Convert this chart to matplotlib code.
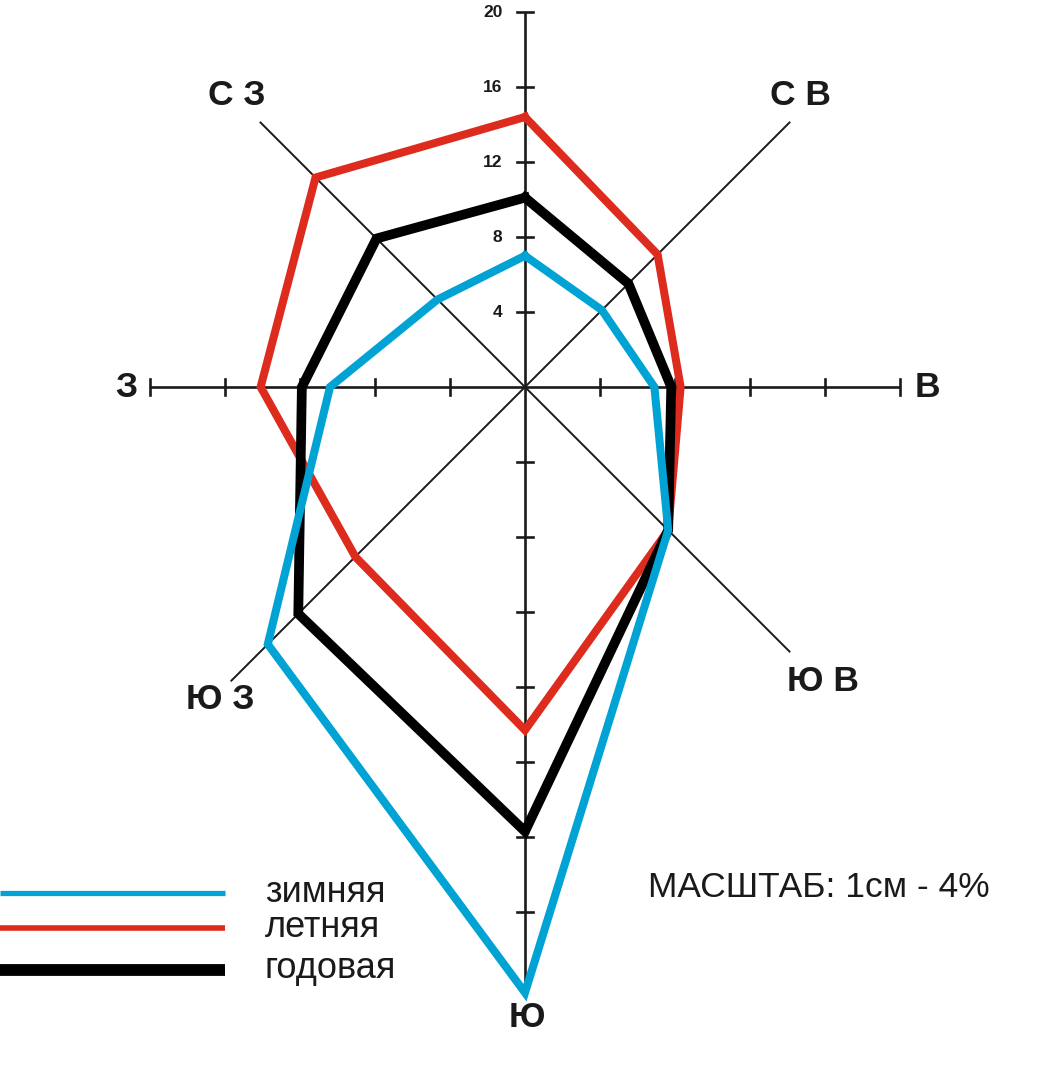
import numpy as np
import matplotlib.pyplot as plt

plt.rcParams['font.family'] = ['Liberation Sans', 'DejaVu Sans']

# Directions (clockwise from north) and their angles in degrees
directions = ['С', 'С В', 'В', 'Ю В', 'Ю', 'Ю З', 'З', 'С З']
angles = [90, 45, 0, -45, -90, -135, 180, 135]

# Wind frequency, %
winter = [7.0, 5.8, 6.9, 10.8, 32.3, 19.4, 10.4, 6.6]
summer = [14.4, 10.0, 8.3, 10.8, 18.3, 12.8, 14.1, 15.8]
annual = [10.1, 7.8, 7.8, 10.8, 23.7, 17.1, 11.9, 11.2]

series_names = ['зимняя', 'летняя', 'годовая']
series_colors = ['#00a3d4', '#dd2b1e', '#000000']

# axis lengths along each direction and tick labels on the north axis
axis_len = [20, 20, 20, 20, 32.3, 22.2, 20, 20]
tick_values = [4, 8, 12, 16, 20]

fig = plt.figure(figsize=(10.47, 10.66), dpi=100)
ax = fig.add_axes([0, 0, 1, 1])
ax.set_xlim(-28.0, 27.84)
ax.set_ylim(-36.21, 20.64)
ax.axis('off')

rad = np.deg2rad(angles)

# axes of the rose
for a, L in zip(rad, axis_len):
    main = abs(np.cos(a)) < 1e-6 or abs(np.sin(a)) < 1e-6
    ax.plot([0, L * np.cos(a)], [0, L * np.sin(a)], color='#1a1a1a',
            lw=1.9 if main else 1.4, zorder=1, solid_capstyle='butt')

# ticks on the four main axes
t = 0.42
for v in tick_values:
    ax.plot([-t, t], [v, v], color='#1a1a1a', lw=1.9, zorder=1)       # N
    ax.plot([v, v], [-t, t], color='#1a1a1a', lw=1.9, zorder=1)       # E
    ax.plot([-v, -v], [-t, t], color='#1a1a1a', lw=1.9, zorder=1)     # W
for v in range(4, 29, 4):
    ax.plot([-t, t], [-v, -v], color='#1a1a1a', lw=1.9, zorder=1)     # S

for v in tick_values:
    ax.text(-1.2, v, str(v), ha='right', va='center', fontsize=12.5,
            fontweight='bold', color='#1a1a1a')

# series polygons
widths = [5.8, 5.8, 7.0]
order = [1, 2, 0]
data = [winter, summer, annual]
for i in order:
    r = np.array(data[i] + data[i][:1])
    a = np.append(rad, rad[0])
    ax.plot(r * np.cos(a), r * np.sin(a), color=series_colors[i], lw=widths[i],
            solid_joinstyle='miter', zorder=2 + order.index(i))

# direction labels
label_pos = {
    'С': (0, 21.3), 'С В': (14.67, 15.57), 'В': (21.44, -0.05),
    'Ю В': (15.89, -15.73), 'Ю': (0.1, -33.6), 'Ю З': (-16.27, -16.69),
    'З': (-21.28, -0.05), 'С З': (-15.36, 15.57),
}
for d in directions:
    x, y = label_pos[d]
    ax.text(x, y, d, ha='center', va='center', fontsize=25.5,
            fontweight='bold', color='#1a1a1a')

# legend
leg_y = [-26.99, -28.85, -31.09]
leg_text_y = [-27.47, -29.33, -31.52]
leg_lw = [3.8, 4.0, 8.5]
for i in range(3):
    ax.plot([-28.0, -16.0], [leg_y[i], leg_y[i]], color=series_colors[i],
            lw=leg_lw[i], solid_capstyle='butt')
    ax.text(-13.87, leg_text_y[i], series_names[i], ha='left', va='baseline',
            fontsize=26, color='#1a1a1a')

ax.text(6.56, -27.2, 'МАСШТАБ: 1см - 4%', ha='left', va='baseline',
        fontsize=25.5, color='#1a1a1a')

plt.savefig('out.png', dpi=100)
